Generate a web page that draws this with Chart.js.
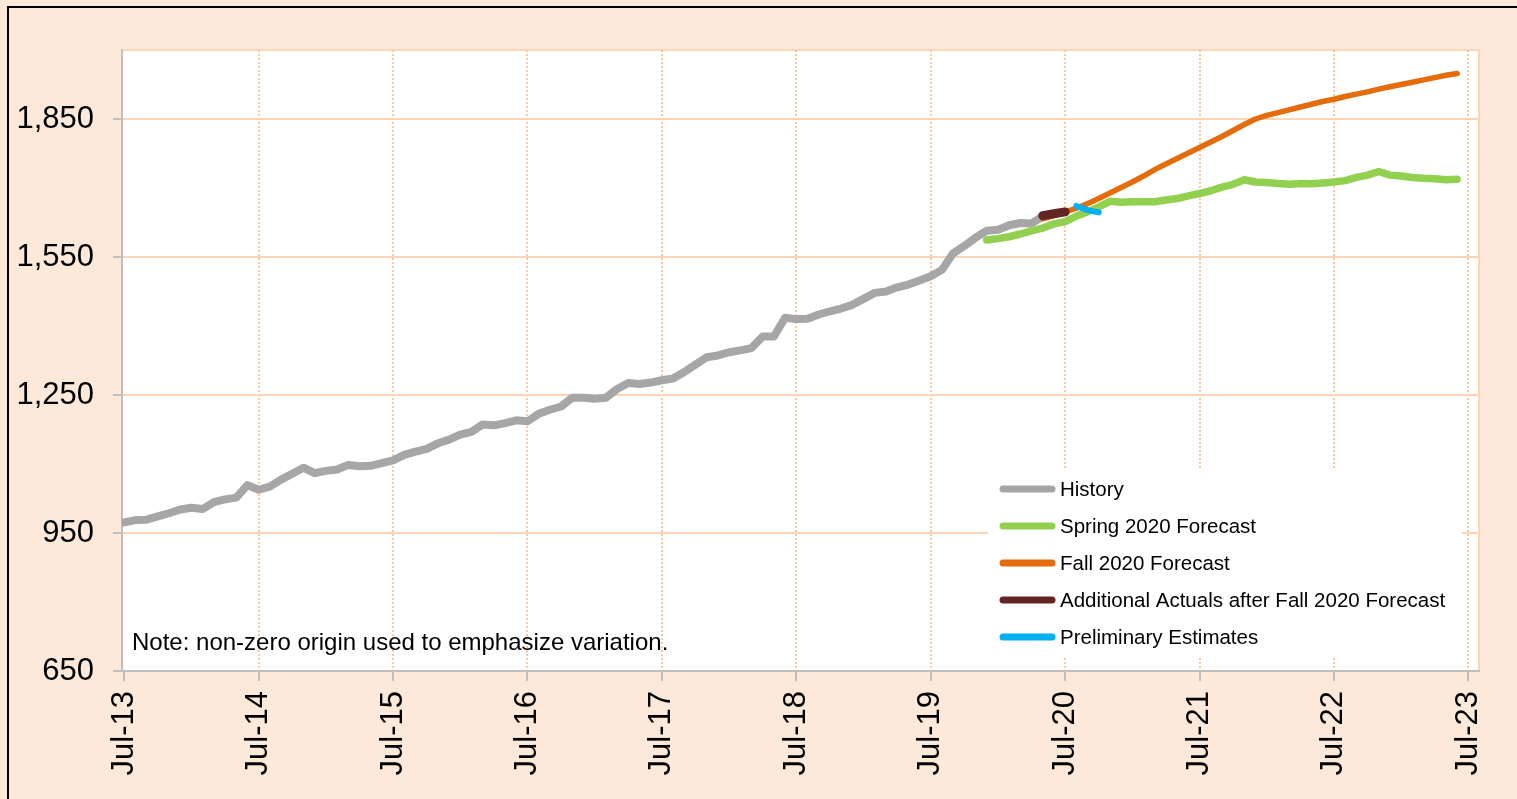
<!DOCTYPE html>
<html>
<head>
<meta charset="utf-8">
<script src="https://cdn.jsdelivr.net/npm/chart.js@4.4.0/dist/chart.umd.min.js"></script>
<style>
  html, body { margin: 0; padding: 0; background: #fff; }
  canvas { display: block; }
</style>
</head>
<body>
<canvas id="enrollChart" width="1517" height="799"></canvas>
<script>
// x is a month index: 0 = Jul-13, 12 = Jul-14, ... 120 = Jul-23
const tickLabels = ["Jul-13", "Jul-14", "Jul-15", "Jul-16", "Jul-17", "Jul-18",
  "Jul-19", "Jul-20", "Jul-21", "Jul-22", "Jul-23"];
const yTicks = [650, 950, 1250, 1550, 1850];

const historyStart = 0;
const historyValues = [
  973, 978, 979, 986, 993, 1001, 1005, 1002, 1017, 1023, 1027, 1054,
  1044, 1051, 1066, 1079, 1092, 1080, 1085, 1088, 1098, 1095, 1096, 1102,
  1108, 1120, 1127, 1133, 1145, 1153, 1164, 1170, 1186, 1184, 1189, 1195,
  1193, 1209, 1218, 1225, 1244, 1244, 1242, 1244, 1263, 1276, 1274, 1277,
  1282, 1286, 1300, 1316, 1332, 1336, 1343, 1347, 1352, 1377, 1377, 1418,
  1415, 1416, 1425, 1432, 1438, 1446, 1459, 1472, 1475, 1484, 1490, 1499,
  1508, 1522, 1558, 1574, 1592, 1607, 1609, 1619, 1624, 1623, 1638
];

const springStart = 77;
const springValues = [
  1587, 1590, 1594, 1600, 1607, 1613, 1622, 1627, 1639, 1648, 1659,
  1671, 1669, 1670, 1670, 1670, 1674, 1677, 1683, 1688, 1694, 1702, 1708,
  1718, 1713, 1712, 1710, 1708, 1710, 1709, 1711, 1713, 1716, 1723, 1728,
  1736, 1728, 1726, 1723, 1721, 1720, 1718, 1719
];

const fallStart = 82;
const fallValues = [
  1633, 1640, 1648, 1656, 1666, 1677, 1689, 1701, 1713, 1726, 1740, 1752,
  1764, 1776, 1788, 1800, 1812, 1825, 1838, 1850, 1858, 1864, 1870, 1876,
  1882, 1888, 1893, 1899, 1904, 1909, 1915, 1920, 1925, 1930, 1935, 1940,
  1945, 1949
];

const actualsStart = 82;
const actualsValues = [1640, 1644, 1648];

const prelimStart = 85;
const prelimValues = [1661, 1652, 1647];

function toPoints(start, values) {
  return values.map((v, i) => ({ x: start + i, y: v }));
}

const FONT = '"Liberation Sans", Arial, sans-serif';

const backgroundPlugin = {
  id: "background",
  beforeDraw(chart) {
    const ctx = chart.ctx;
    const a = chart.chartArea;
    ctx.save();
    ctx.fillStyle = "#FDE9D9";
    ctx.fillRect(0, 0, chart.width, chart.height);
    ctx.strokeStyle = "#000";
    ctx.lineWidth = 2;
    ctx.strokeRect(8, 7, chart.width + 20, chart.height + 20);
    ctx.fillStyle = "#fff";
    ctx.fillRect(a.left, a.top, a.right - a.left, a.bottom - a.top);
    ctx.strokeStyle = "#FCD5B4";
    ctx.strokeRect(a.left, a.top, a.right - a.left, a.bottom - a.top);
    ctx.restore();
  },
};

const legendPlugin = {
  id: "boxLegend",
  afterDraw(chart) {
    const ctx = chart.ctx;
    ctx.save();
    ctx.fillStyle = "#fff";
    ctx.fillRect(988, 468, 474, 189);
    ctx.font = "20.5px " + FONT;
    ctx.textBaseline = "middle";
    ctx.lineCap = "round";
    chart.data.datasets.forEach((ds, i) => {
      const y = 489 + i * 37;
      ctx.strokeStyle = ds.borderColor;
      ctx.lineWidth = 7;
      ctx.beginPath();
      ctx.moveTo(1003, y);
      ctx.lineTo(1052, y);
      ctx.stroke();
      ctx.fillStyle = "#000";
      ctx.fillText(ds.label, 1060, y + 1);
    });
    // note
    ctx.font = "24px " + FONT;
    ctx.fillText("Note: non-zero origin used to emphasize variation.", 132, 643);
    ctx.restore();
  },
};

function lineSet(label, start, values, color, width, order) {
  return {
    label: label,
    data: toPoints(start, values),
    borderColor: color,
    backgroundColor: color,
    borderWidth: width,
    pointRadius: 0,
    fill: false,
    tension: 0,
    borderCapStyle: "round",
    borderJoinStyle: "round",
    order: order,
  };
}

new Chart(document.getElementById("enrollChart"), {
  type: "line",
  data: {
    datasets: [
      lineSet("History", historyStart, historyValues, "#A6A6A6", 8, 5),
      lineSet("Spring 2020 Forecast", springStart, springValues, "#92D050", 7.5, 4),
      lineSet("Fall 2020 Forecast", fallStart, fallValues, "#E46C0A", 5.5, 3),
      lineSet("Additional Actuals after Fall 2020 Forecast", actualsStart, actualsValues, "#632523", 9, 2),
      lineSet("Preliminary Estimates", prelimStart, prelimValues, "#00B0F0", 6, 1),
    ],
  },
  options: {
    responsive: false,
    animation: false,
    devicePixelRatio: 1,
    layout: { padding: { top: 50, right: 38, left: 0, bottom: 0 } },
    plugins: {
      legend: { display: false },
      tooltip: { enabled: false },
    },
    scales: {
      x: {
        type: "linear",
        min: -0.2,
        max: 120.95,
        afterBuildTicks: (scale) => {
          scale.ticks = tickLabels.map((_, i) => ({ value: i * 12 }));
        },
        afterFit: (scale) => {
          scale.height = 128;
        },
        ticks: {
          autoSkip: false,
          minRotation: 90,
          maxRotation: 90,
          padding: 10,
          color: "#000",
          font: { family: FONT, size: 31 },
          callback: (value) => tickLabels[Math.round(value / 12)],
        },
        grid: {
          color: (c) => (c.index === 0 ? "rgba(0,0,0,0)" : "#F9C89B"),
          lineWidth: 2,
          tickColor: "#BFBFBF",
          tickLength: 10,
          tickWidth: 2,
          tickBorderDash: [],
        },
        border: { color: "#BFBFBF", width: 2, dash: [2, 2] },
      },
      y: {
        min: 650,
        max: 2000,
        afterBuildTicks: (scale) => {
          scale.ticks = yTicks.map((v) => ({ value: v }));
        },
        afterFit: (scale) => {
          scale.width = 122;
        },
        ticks: {
          padding: 19,
          color: "#000",
          font: { family: FONT, size: 31 },
          callback: (value) => value.toLocaleString("en-US"),
        },
        grid: {
          color: "#FCD5B4",
          lineWidth: 2,
          tickColor: "#BFBFBF",
          tickLength: 9,
          tickWidth: 2,
        },
        border: { color: "#BFBFBF", width: 2 },
      },
    },
  },
  plugins: [backgroundPlugin, legendPlugin],
});
</script>
</body>
</html>
